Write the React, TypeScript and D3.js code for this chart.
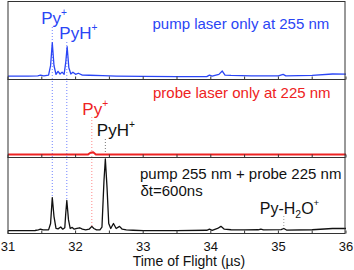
import React from 'react';
import * as d3 from 'd3';

// time of flight (µs) / intensity (arb., big peak of bottom trace = 1)
const pumpOnly: [number, number][] = [
  [31.0, 0.005], [31.3, 0.005], [31.44, 0.01], [31.48, 0.018], [31.53, 0.01], [31.6, 0.02],
  [31.63, 0.15], [31.655, 0.46], [31.68, 0.15], [31.71, 0.03], [31.74, 0.07], [31.77, 0.035],
  [31.8, 0.06], [31.83, 0.03], [31.855, 0.2], [31.875, 0.405], [31.9, 0.12], [31.93, 0.035],
  [31.96, 0.06], [32.0, 0.03], [32.04, 0.045], [32.1, 0.02], [32.2, 0.018], [32.4, 0.012],
  [32.6, 0.006], [33.0, 0.002], [33.5, 0.0], [33.94, 0.0], [33.98, 0.02], [34.02, 0.005],
  [34.12, 0.03], [34.17, 0.075], [34.21, 0.02], [34.3, 0.016], [34.6, 0.01], [35.0, 0.01],
  [35.07, 0.03], [35.11, 0.01], [35.5, 0.015], [35.8, 0.035], [36.0, 0.032],
];

const probeOnly: [number, number][] = [
  [31.0, 0.0], [32.18, 0.0], [32.22, 0.025], [32.26, 0.03], [32.3, 0.0], [36.0, 0.0],
];

const pumpProbe: [number, number][] = [
  [31.0, 0.0], [31.4, 0.002], [31.45, 0.01], [31.48, 0.02], [31.52, 0.01], [31.6, 0.01],
  [31.63, 0.1], [31.655, 0.46], [31.68, 0.2], [31.71, 0.03], [31.74, 0.025], [31.78, 0.05],
  [31.81, 0.02], [31.84, 0.04], [31.855, 0.25], [31.87, 0.42], [31.895, 0.15], [31.92, 0.03],
  [31.95, 0.045], [31.98, 0.02], [32.02, 0.03], [32.06, 0.04], [32.1, 0.02], [32.15, 0.012],
  [32.2, 0.02], [32.24, 0.06], [32.27, 0.03], [32.31, 0.01], [32.36, 0.012], [32.39, 0.05],
  [32.42, 0.7], [32.44, 1.0], [32.465, 0.6], [32.49, 0.1], [32.52, 0.03], [32.56, 0.1],
  [32.6, 0.03], [32.65, 0.06], [32.69, 0.02], [32.75, 0.01], [32.85, 0.005], [33.0, 0.0],
  [33.5, 0.0], [33.94, 0.005], [33.98, 0.02], [34.02, 0.005], [34.1, 0.03], [34.15, 0.06],
  [34.2, 0.02], [34.3, 0.012], [34.5, 0.01], [34.7, 0.012], [34.74, 0.022], [34.78, 0.01],
  [35.04, 0.015], [35.08, 0.03], [35.12, 0.008], [35.5, 0.012], [35.8, 0.03], [36.0, 0.03],
];

const xTicks = [31, 32, 33, 34, 35, 36];
const minorTicks = [31.5, 32.5, 33.5, 34.5, 35.5];

const panelEdges = [1.5, 79.5, 157.5, 233.5];
const blue = '#2a45f5';
const red = '#ee2222';
const font = 'Liberation Sans, Arial, Helvetica, sans-serif';

const x = d3.scaleLinear().domain([31, 36]).range([8, 346]);
const yPanel = (i: number) =>
  d3.scaleLinear().domain([-0.04, 1.02]).range([panelEdges[i + 1], panelEdges[i]]);

const line = (i: number) => {
  const y = yPanel(i);
  return d3.line<[number, number]>().x((d) => x(d[0])).y((d) => y(d[1]));
};

const peakAt = (data: [number, number][], t: number) =>
  data.reduce((best, d) => (Math.abs(d[0] - t) < Math.abs(best[0] - t) ? d : best))[1];

const Ion = ({ x0, y0, name, sub, tail, color, size = 17 }: any) => (
  <text x={x0} y={y0} fill={color} fontSize={size} fontFamily={font}>
    {name}
    {sub && (
      <tspan fontSize={size * 0.65} dy={4}>{sub}</tspan>
    )}
    {tail && <tspan dy={sub ? -4 : 0}>{tail}</tspan>}
    <tspan fontSize={size * 0.6} dy={-8}>+</tspan>
  </text>
);

const App = () => {
  const y3 = yPanel(2);
  const guides = [
    { t: 31.655, color: '#6f82ff', from: 27, to: y3(peakAt(pumpProbe, 31.655)) },
    { t: 31.87, color: '#6f82ff', from: 42, to: y3(peakAt(pumpProbe, 31.87)) },
    { t: 32.24, color: '#ff8a8a', from: 117, to: y3(peakAt(pumpProbe, 32.24)) },
    { t: 32.44, color: '#777', from: 139, to: y3(peakAt(pumpProbe, 32.44)) },
    { t: 35.08, color: '#999', from: 216, to: y3(peakAt(pumpProbe, 35.08)) },
  ];
  const traces = [
    { data: pumpOnly, color: blue, width: 1.3 },
    { data: probeOnly, color: red, width: 2 },
    { data: pumpProbe, color: '#111', width: 1.3 },
  ];
  return (
    <svg width={354} height={270} style={{ position: 'absolute', left: 0, top: 0, background: '#fff' }}>
      {guides.map((g, i) => (
        <line key={i} x1={x(g.t)} x2={x(g.t)} y1={g.from} y2={g.to}
          stroke={g.color} strokeWidth={1} strokeDasharray="1,2" />
      ))}
      {traces.map((tr, i) => (
        <path key={i} d={line(i)(tr.data) || ''} fill="none" stroke={tr.color}
          strokeWidth={tr.width} strokeLinejoin="round" />
      ))}
      {/* frames and ticks */}
      {[0, 1, 2].map((i) => (
        <g key={i}>
          <rect x={x(31)} y={panelEdges[i]} width={x(36) - x(31) - 1} height={panelEdges[i + 1] - panelEdges[i]}
            fill="none" stroke="#333" strokeWidth={1} />
          {[...xTicks, ...minorTicks].map((t) => (
            <line key={t} x1={x(t)} x2={x(t)} y1={panelEdges[i + 1]} y2={panelEdges[i + 1] - 3}
              stroke="#333" strokeWidth={1} />
          ))}
        </g>
      ))}
      {xTicks.map((t) => (
        <text key={t} x={x(t)} y={251} textAnchor="middle" fontSize={13} fontFamily={font} fill="#111">
          {t}
        </text>
      ))}
      <text x={189} y={266} textAnchor="middle" fontSize={14} fontFamily={font} fill="#111">
        Time of Flight (µs)
      </text>

      <text x={152.5} y={28.5} fontSize={15} fontFamily={font} fill={blue}>pump laser only at 255 nm</text>
      <text x={153} y={98} fontSize={15} fontFamily={font} fill={red}>probe laser only at 225 nm</text>
      <text x={140} y={179} fontSize={15} fontFamily={font} fill="#111">pump 255 nm + probe 225 nm</text>
      <text x={140.5} y={195.5} fontSize={15} fontFamily={font} fill="#111">δt=600ns</text>

      <Ion x0={x(31.655) - 11} y0={23.5} name="Py" color={blue} />
      <Ion x0={x(31.87) - 7.5} y0={39} name="PyH" color={blue} />
      <Ion x0={x(32.24) - 9.5} y0={114.5} name="Py" color={red} />
      <Ion x0={x(32.44) - 8.5} y0={135.5} name="PyH" color="#111" />
      <Ion x0={x(35.08) - 24} y0={213.5} name="Py-H" sub="2" tail="O" color="#111" size={16} />
    </svg>
  );
};

export default App;
